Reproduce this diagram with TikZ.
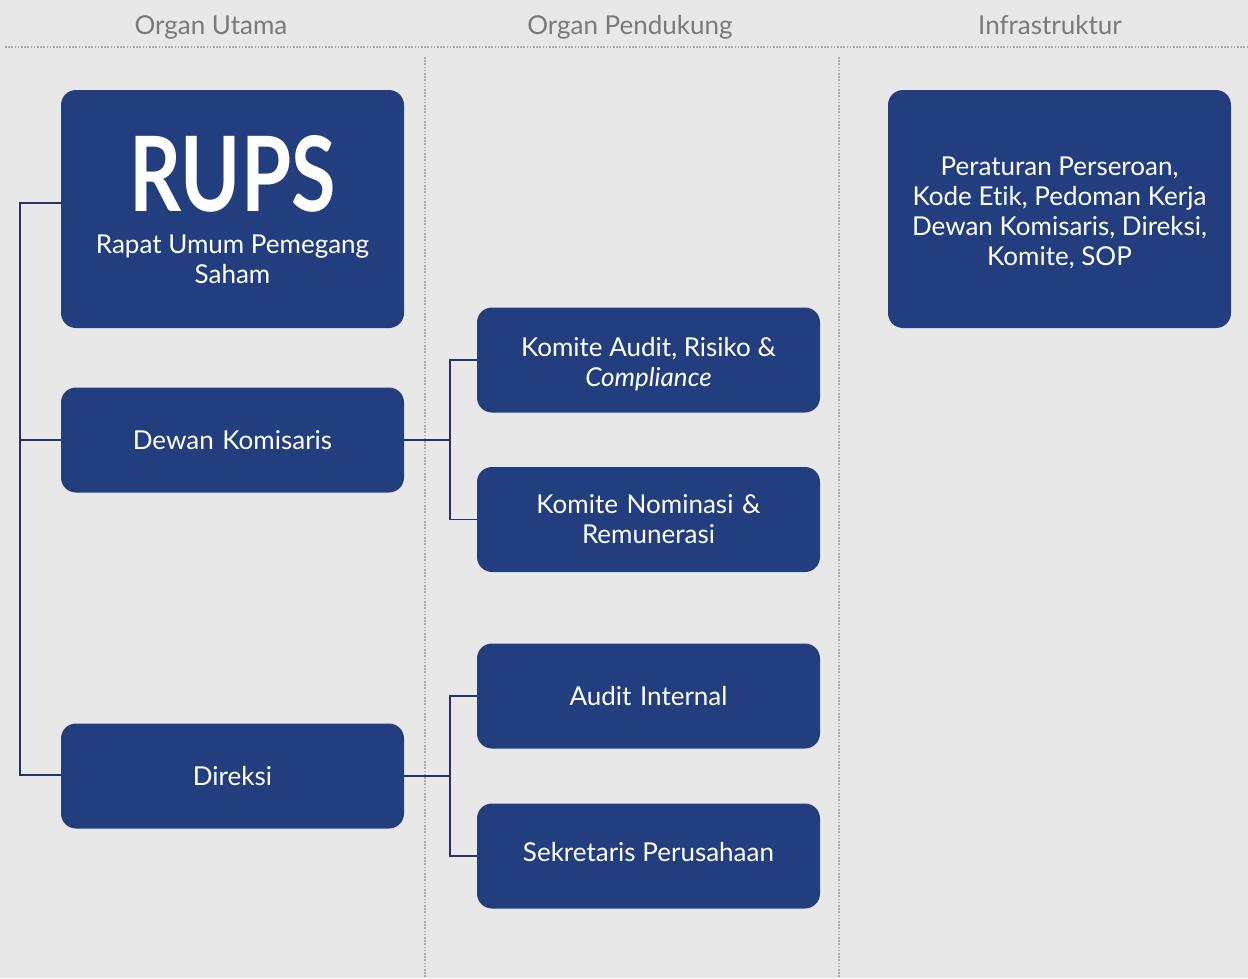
\documentclass[tikz,border=0pt]{standalone}
\usepackage{fontspec}
\setmainfont{Lato}[Ligatures=NoCommon]
\definecolor{bg}{HTML}{E8E8E8}
\definecolor{navy}{HTML}{233E7F}
\definecolor{conn}{HTML}{2B2F6B}
\definecolor{hdr}{HTML}{7A7A7A}
\definecolor{dots}{HTML}{A8A8A8}
\begin{document}
\begin{tikzpicture}[x=1pt,y=-1pt,
  box/.style={fill=navy,rounded corners=15pt,text=white,align=center,font=\fontsize{26}{30}\selectfont},
  smallbox/.style={box,minimum width=343pt,minimum height=105pt,text width=330pt},
  bigbox/.style={box,minimum width=343pt,minimum height=238pt,text width=330pt},
  boxtext/.style={text=white,align=center,font=\fontsize{26}{30}\selectfont},
  hdrtext/.style={text=hdr,anchor=base,font=\fontsize{26}{30}\selectfont},
  link/.style={draw=conn,line width=1.5pt},
  sep/.style={draw=dots,line width=1.6pt,dash pattern=on 1.6pt off 1.6pt}]
\fill[bg] (0,0) rectangle (1248,978);
\useasboundingbox (0,0) rectangle (1248,978);
% headers
\node[hdrtext] (h1) at (211,34) {Organ Utama};
\node[hdrtext] (h2) at (630,34) {Organ Pendukung};
\node[hdrtext] (h3) at (1050,34) {Infrastruktur};
\coordinate (s0) at (5,47);
\coordinate (s1) at (1248,47);
\draw[sep] (s0) -- (s1);
\coordinate (v1a) at (425,57); \coordinate (v1b) at (425,978);
\coordinate (v2a) at (839,57); \coordinate (v2b) at (839,978);
\draw[sep] (v1a) -- (v1b);
\draw[sep] (v2a) -- (v2b);
% boxes
\node[bigbox] (rups) at (232.5,209) {};
\node[text=white,font=\bfseries\fontsize{104}{104}\selectfont,xscale=0.78,inner sep=0pt] (rupst) at (232.5,174) {RUPS};
\node[boxtext] (rupss) at (232.5,259) {Rapat Umum Pemegang\\Saham};
\node[smallbox] (dk) at (232.5,440) {Dewan Komisaris};
\node[smallbox] (dir) at (232.5,776) {Direksi};
\node[smallbox] (ka) at (648.5,360) {};
\node[boxtext] (kat) at ([yshift=-4pt]ka.center) {Komite Audit, Risiko \&\\\itshape Compliance};
\node[smallbox] (kn) at (648.5,519.5) {Komite Nominasi \&\\Remunerasi};
\node[smallbox] (ai) at (648.5,696) {Audit Internal};
\node[smallbox] (sp) at (648.5,856) {};
\node[boxtext] (spt) at ([yshift=4pt]sp.center) {Sekretaris Perusahaan};
\node[bigbox] (inf) at (1059.5,209) {};
\node[boxtext] (inft) at ([yshift=-4pt]inf.center) {Peraturan Perseroan,\\Kode Etik, Pedoman Kerja\\Dewan Komisaris, Direksi,\\Komite, SOP};
% connectors
\coordinate (la) at (20,203);
\coordinate (lb) at (20,775);
\draw[link] (rups.west |- la) -- (la) -- (lb) -- (dir.west |- lb);
\draw[link] (dk.west) -- (dk.west -| la);
\coordinate (m1) at (450,440);
\draw[link] (dk.east) -- (m1);
\draw[link] (ka.west) -| (m1) |- (kn.west);
\coordinate (m2) at (450,776);
\draw[link] (dir.east) -- (m2);
\draw[link] (ai.west) -| (m2) |- (sp.west);
\end{tikzpicture}
\end{document}
